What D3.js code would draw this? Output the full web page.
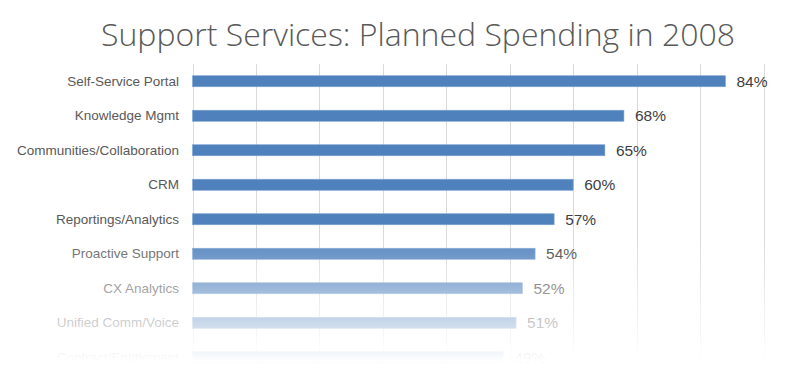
<!DOCTYPE html>
<html>
<head>
<meta charset="utf-8">
<script src="https://cdn.jsdelivr.net/npm/d3@7"></script>
<style>
  html, body { margin: 0; padding: 0; background: #fff; }
  svg { display: block; }
</style>
</head>
<body>
<svg id="chart" width="793" height="373"></svg>
<script>
const title = "Support Services: Planned Spending in 2008";
const categories = ["Self-Service Portal", "Knowledge Mgmt", "Communities/Collaboration", "CRM",
  "Reportings/Analytics", "Proactive Support", "CX Analytics", "Unified Comm/Voice", "Contract/Entitlement"];
const values = [84, 68, 65, 60, 57, 54, 52, 51, 49];
const xTicks = [0, 10, 20, 30, 40, 50, 60, 70, 80, 90];

const W = 793, H = 373;
const margin = { top: 64, left: 192.5, right: 29.5, bottom: -1.5 };
const svg = d3.select("#chart");

const x = d3.scaleLinear().domain([0, 90]).range([margin.left, W - margin.right]);
const y = d3.scaleBand().domain(categories).range([margin.top, H - margin.bottom]).paddingInner(0.68).paddingOuter(0.34);

// title
svg.append("text")
  .attr("x", 101).attr("y", 46)
  .attr("font-family", "'Open Sans', 'Noto Sans', sans-serif")
  .attr("font-weight", 300)
  .attr("font-size", 31.5)
  .attr("fill", "#595959")
  .attr("textLength", 634)
  .attr("lengthAdjust", "spacingAndGlyphs")
  .text(title);

// gridlines
svg.append("g").selectAll("line").data(xTicks).join("line")
  .attr("x1", d => Math.round(x(d)) + 0.5).attr("x2", d => Math.round(x(d)) + 0.5)
  .attr("y1", margin.top).attr("y2", H)
  .attr("stroke", "#d9d9d9").attr("stroke-width", 1);

// bars
svg.append("g").selectAll("rect").data(values).join("rect")
  .attr("x", x(0))
  .attr("y", (d, i) => y(categories[i]))
  .attr("width", d => x(d) - x(0))
  .attr("height", y.bandwidth())
  .attr("fill", "#4F81BD")
  .attr("stroke", "#7ea3d2").attr("stroke-width", 0.6);

// category labels
svg.append("g").selectAll("text").data(categories).join("text")
  .attr("x", 179)
  .attr("y", d => y(d) + y.bandwidth() / 2)
  .attr("dy", "0.35em")
  .attr("text-anchor", "end")
  .attr("font-family", "'Liberation Sans', Arial, sans-serif")
  .attr("font-size", 13.5)
  .attr("fill", "#595959")
  .text(d => d);

// value labels
svg.append("g").selectAll("text").data(values).join("text")
  .attr("x", d => x(d) + 11)
  .attr("y", (d, i) => y(categories[i]) + y.bandwidth() / 2)
  .attr("dy", "0.35em")
  .attr("font-family", "'Liberation Sans', Arial, sans-serif")
  .attr("font-size", 15.5)
  .attr("fill", "#404040")
  .text(d => d + "%");

// fade overlay
const defs = svg.append("defs");
const grad = defs.append("linearGradient").attr("id", "fade")
  .attr("x1", 0).attr("y1", 0).attr("x2", 0).attr("y2", 1);
grad.append("stop").attr("offset", 0).attr("stop-color", "#fff").attr("stop-opacity", 0);
grad.append("stop").attr("offset", 1).attr("stop-color", "#fff").attr("stop-opacity", 1);
svg.append("rect").attr("x", 0).attr("y", 232).attr("width", W).attr("height", 130)
  .attr("fill", "url(#fade)");
svg.append("rect").attr("x", 0).attr("y", 361.5).attr("width", W).attr("height", 12)
  .attr("fill", "#fff").attr("fill-opacity", 0.97);
</script>
</body>
</html>
